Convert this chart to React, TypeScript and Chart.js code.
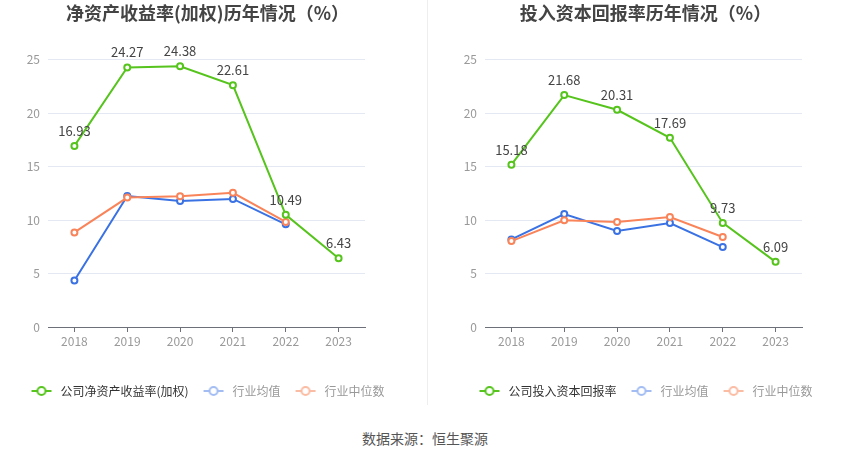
import React, { useEffect, useRef } from "react";
import { Chart, registerables } from "chart.js";

Chart.register(...registerables);

const years = ["2018", "2019", "2020", "2021", "2022", "2023"];
const yTicks = [0, 5, 10, 15, 20, 25];

const roeTitle = "净资产收益率(加权)历年情况（%）";
const roeCompanyLabel = "公司净资产收益率(加权)";
const roeCompany = [16.93, 24.27, 24.38, 22.61, 10.49, 6.43];
const roeIndustryAvg = [4.35, 12.25, 11.78, 11.97, 9.6, null];
const roeIndustryMedian = [8.84, 12.1, 12.22, 12.55, 9.82, null];

const roicTitle = "投入资本回报率历年情况（%）";
const roicCompanyLabel = "公司投入资本回报率";
const roicCompany = [15.18, 21.68, 20.31, 17.69, 9.73, 6.09];
const roicIndustryAvg = [8.19, 10.56, 8.97, 9.72, 7.47, null];
const roicIndustryMedian = [8.03, 9.97, 9.81, 10.28, 8.41, null];

const avgLabel = "行业均值";
const medianLabel = "行业中位数";
const sourceText = "数据来源：恒生聚源";

const FONT = "'Noto Sans CJK SC', 'Noto Sans', sans-serif";
const GREEN = "#56c41d";
const BLUE = "#3a72e4";
const ORANGE = "#f9845a";
const BLUE_FADED = "#a3bdf3";
const ORANGE_FADED = "#fbbca4";

function makeIcon(color: string): HTMLCanvasElement {
  const c = document.createElement("canvas");
  c.width = 24;
  c.height = 12;
  const ctx = c.getContext("2d")!;
  ctx.strokeStyle = color;
  ctx.lineWidth = 2;
  ctx.beginPath();
  ctx.moveTo(1, 6);
  ctx.lineTo(21, 6);
  ctx.stroke();
  ctx.beginPath();
  ctx.arc(11, 6, 4, 0, Math.PI * 2);
  ctx.fillStyle = "#fff";
  ctx.fill();
  ctx.stroke();
  return c;
}

const valueLabelPlugin = {
  id: "valueLabels",
  afterDatasetsDraw(chart: any) {
    const meta = chart.getDatasetMeta(0);
    const data = chart.data.datasets[0].data;
    const ctx = chart.ctx;
    ctx.save();
    ctx.font = `13px ${FONT}`;
    ctx.fillStyle = "#444";
    ctx.textAlign = "center";
    ctx.textBaseline = "middle";
    meta.data.forEach((pt: any, i: number) => {
      const v = data[i];
      if (v == null) return;
      ctx.fillText(v.toFixed(2), pt.x, pt.y - 15);
    });
    ctx.restore();
  },
};

type Cfg = {
  title: string;
  companyLabel: string;
  company: (number | null)[];
  avg: (number | null)[];
  median: (number | null)[];
  padLeft: number;
  padRight: number;
  yWidth: number;
  rightWidth: number;
};

function LineChart({ cfg }: { cfg: Cfg }) {
  const ref = useRef<HTMLCanvasElement>(null);
  useEffect(() => {
    if (!ref.current) return;
    const icons = [makeIcon(GREEN), makeIcon(BLUE_FADED), makeIcon(ORANGE_FADED)];
    const textColors = ["#333", "#999", "#999"];
    const ds = (label: string, data: any[], color: string, order: number) => ({
      label,
      data,
      borderColor: color,
      backgroundColor: color,
      borderWidth: 2,
      pointRadius: 3,
      pointBorderWidth: 2,
      pointBackgroundColor: "#fff",
      pointBorderColor: color,
      tension: 0,
      spanGaps: false,
      order,
    });
    const chart = new Chart(ref.current, {
      type: "line",
      data: {
        labels: years,
        datasets: [
          ds(cfg.companyLabel, cfg.company, GREEN, 0),
          ds(avgLabel, cfg.avg, BLUE, 2),
          ds(medianLabel, cfg.median, ORANGE, 1),
        ],
      },
      options: {
        responsive: false,
        animation: false,
        layout: { padding: { left: cfg.padLeft, right: cfg.padRight, top: 0, bottom: 3 } },
        plugins: {
          tooltip: { enabled: false },
          title: {
            display: true,
            text: cfg.title,
            color: "#444",
            font: { size: 18, weight: "bold", family: FONT, lineHeight: 1.2 },
            padding: { top: 2, bottom: 36 },
          },
          legend: {
            position: "bottom",
            labels: {
              usePointStyle: true,
              pointStyleWidth: 24,
              boxHeight: 12,
              padding: 14,
              font: { size: 12, family: FONT },
              generateLabels: (c: any) =>
                c.data.datasets.map((d: any, i: number) => ({
                  text: d.label,
                  datasetIndex: i,
                  pointStyle: icons[i],
                  fontColor: textColors[i],
                  hidden: false,
                  lineWidth: 0,
                  strokeStyle: "transparent",
                  fillStyle: "transparent",
                })),
            },
          },
        },
        scales: {
          x: {
            type: "category",
            offset: true,
            grid: {
              display: true,
              drawOnChartArea: false,
              drawTicks: true,
              tickLength: 5,
              color: "#6e7079",
            },
            border: { display: true, color: "#6e7079", width: 1 },
            ticks: { color: "#999", padding: 2, font: { size: 12, family: FONT } },
            afterFit: (s: any) => {
              s.height = 44;
            },
          },
          y: {
            type: "linear",
            position: "left",
            min: 0,
            max: 25,
            afterBuildTicks: (s: any) => {
              s.ticks = yTicks.map((v) => ({ value: v }));
            },
            grid: { color: "#e3e8f3", drawTicks: false, lineWidth: 1 },
            border: { display: false },
            ticks: { color: "#999", padding: 8, font: { size: 12, family: FONT } },
            afterFit: (s: any) => {
              s.width = cfg.yWidth;
            },
          },
          yRight: {
            type: "linear",
            position: "right",
            display: true,
            grid: { display: false, drawTicks: false },
            border: { display: false },
            ticks: { display: false },
            afterFit: (s: any) => {
              s.width = cfg.rightWidth;
            },
          },
        },
      },
      plugins: [valueLabelPlugin],
    } as any);
    return () => chart.destroy();
  }, [cfg]);
  return <canvas ref={ref} width={425} height={410} />;
}

const leftCfg: Cfg = {
  title: roeTitle,
  companyLabel: roeCompanyLabel,
  company: roeCompany,
  avg: roeIndustryAvg,
  median: roeIndustryMedian,
  padLeft: 10,
  padRight: 20,
  yWidth: 38,
  rightWidth: 40,
};

const rightCfg: Cfg = {
  title: roicTitle,
  companyLabel: roicCompanyLabel,
  company: roicCompany,
  avg: roicIndustryAvg,
  median: roicIndustryMedian,
  padLeft: 16,
  padRight: 0,
  yWidth: 44,
  rightWidth: 48,
};

export default function App() {
  return (
    <div
      style={{
        position: "fixed",
        left: 0,
        top: 0,
        width: 850,
        height: 459,
        background: "#fff",
        overflow: "hidden",
      }}
    >
      <div style={{ position: "absolute", left: 0, top: 0, width: 425, height: 410 }}>
        <LineChart cfg={leftCfg} />
      </div>
      <div style={{ position: "absolute", left: 425, top: 0, width: 425, height: 410 }}>
        <LineChart cfg={rightCfg} />
      </div>
      <div
        style={{
          position: "absolute",
          left: 427,
          top: 0,
          width: 1,
          height: 405,
          background: "#eeeeee",
        }}
      />
      <div
        style={{
          position: "absolute",
          left: 0,
          top: 428,
          width: 850,
          textAlign: "center",
          fontFamily: FONT,
          fontSize: 14,
          lineHeight: "20px",
          color: "#555",
        }}
      >
        {sourceText}
      </div>
    </div>
  );
}
